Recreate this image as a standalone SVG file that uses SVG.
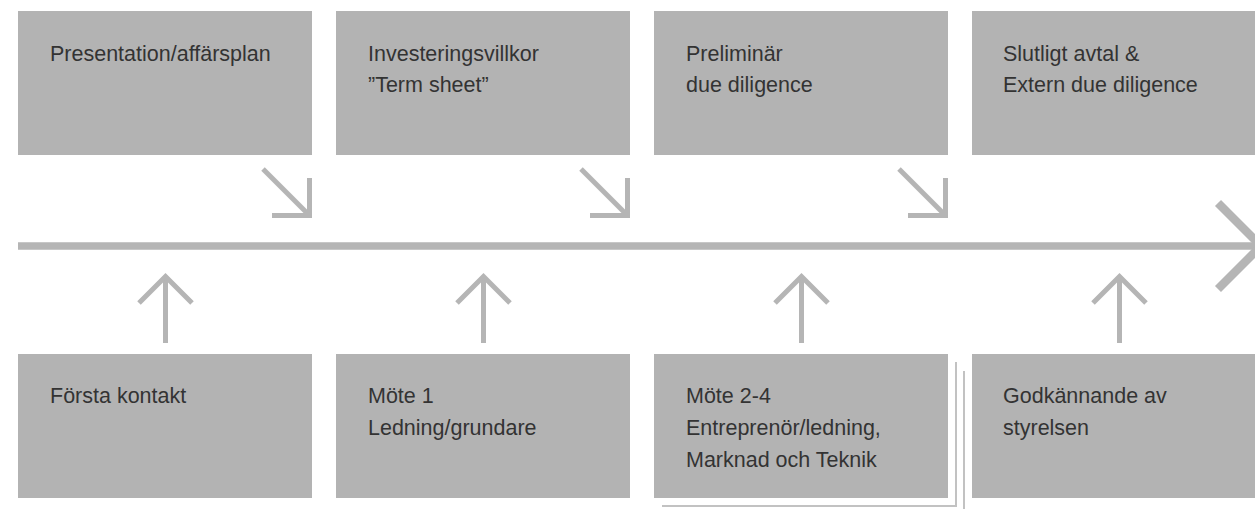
<svg xmlns="http://www.w3.org/2000/svg" width="1255" height="509" viewBox="0 0 1255 509">
  <style>
    .box { fill: #b3b3b3; }
    .lbl { font-family: "Liberation Sans", Arial, sans-serif; font-size: 21.5px; fill: #333333; }
    .conn { stroke: #b5b5b5; fill: none; stroke-linecap: butt; }
    .thin { stroke: #c2c2c2; stroke-width: 2; fill: none; }
  </style>
  <rect width="1255" height="509" fill="#ffffff"/>

  <g id="connectors">
    <!-- main timeline -->
    <line class="conn" x1="18" y1="246" x2="1258" y2="246" stroke-width="7.5"/>
    <polyline class="conn" points="1218,203 1261,246 1218,289" stroke-width="8.5"/>
    <!-- diagonal arrows from top boxes -->
    <g stroke-width="5" class="conn">
      <line class="conn" x1="263" y1="169" x2="308" y2="214" stroke-width="5"/>
      <polyline class="conn" points="309.5,178 309.5,215.5 272,215.5" stroke-width="5"/>
      <line class="conn" x1="581" y1="169" x2="626" y2="214" stroke-width="5"/>
      <polyline class="conn" points="627.5,178 627.5,215.5 590,215.5" stroke-width="5"/>
      <line class="conn" x1="899" y1="169" x2="944" y2="214" stroke-width="5"/>
      <polyline class="conn" points="945.5,178 945.5,215.5 908,215.5" stroke-width="5"/>
    </g>
    <!-- up arrows from bottom boxes -->
    <line class="conn" x1="165.5" y1="276" x2="165.5" y2="343" stroke-width="5"/>
    <polyline class="conn" points="139,303 165.5,276.5 192,303" stroke-width="5"/>
    <line class="conn" x1="483.5" y1="276" x2="483.5" y2="343" stroke-width="5"/>
    <polyline class="conn" points="457,303 483.5,276.5 510,303" stroke-width="5"/>
    <line class="conn" x1="801.5" y1="276" x2="801.5" y2="343" stroke-width="5"/>
    <polyline class="conn" points="775,303 801.5,276.5 828,303" stroke-width="5"/>
    <line class="conn" x1="1119.5" y1="276" x2="1119.5" y2="343" stroke-width="5"/>
    <polyline class="conn" points="1093,303 1119.5,276.5 1146,303" stroke-width="5"/>
  </g>

  <g id="top1">
    <rect class="box" x="18" y="11" width="294" height="144"/>
    <text class="lbl" x="50" y="61">Presentation/affärsplan</text>
  </g>
  <g id="top2">
    <rect class="box" x="336" y="11" width="294" height="144"/>
    <text class="lbl" x="368" y="61">Investeringsvillkor<tspan x="368" dy="30.8">”Term sheet”</tspan></text>
  </g>
  <g id="top3">
    <rect class="box" x="654" y="11" width="294" height="144"/>
    <text class="lbl" x="686" y="61">Preliminär<tspan x="686" dy="30.8">due diligence</tspan></text>
  </g>
  <g id="top4">
    <rect class="box" x="972" y="11" width="283" height="144"/>
    <text class="lbl" x="1003" y="61">Slutligt avtal &amp;<tspan x="1003" dy="30.8">Extern due diligence</tspan></text>
  </g>

  <g id="bottom1">
    <rect class="box" x="18" y="354" width="294" height="144"/>
    <text class="lbl" x="50" y="403">Första kontakt</text>
  </g>
  <g id="bottom2">
    <rect class="box" x="336" y="354" width="294" height="144"/>
    <text class="lbl" x="368" y="403">Möte 1<tspan x="368" dy="31.5">Ledning/grundare</tspan></text>
  </g>
  <g id="bottom3">
    <polyline class="thin" points="662,506 956,506 956,362"/>
    <polyline class="thin" points="964,371 964,509"/>
    <rect class="box" x="654" y="354" width="294" height="144"/>
    <text class="lbl" x="686" y="403">Möte 2-4<tspan x="686" dy="31.8">Entreprenör/ledning,</tspan><tspan x="686" dy="31.8">Marknad och Teknik</tspan></text>
  </g>
  <g id="bottom4">
    <rect class="box" x="972" y="354" width="283" height="144"/>
    <text class="lbl" x="1003" y="403">Godkännande av<tspan x="1003" dy="31.5">styrelsen</tspan></text>
  </g>
</svg>
